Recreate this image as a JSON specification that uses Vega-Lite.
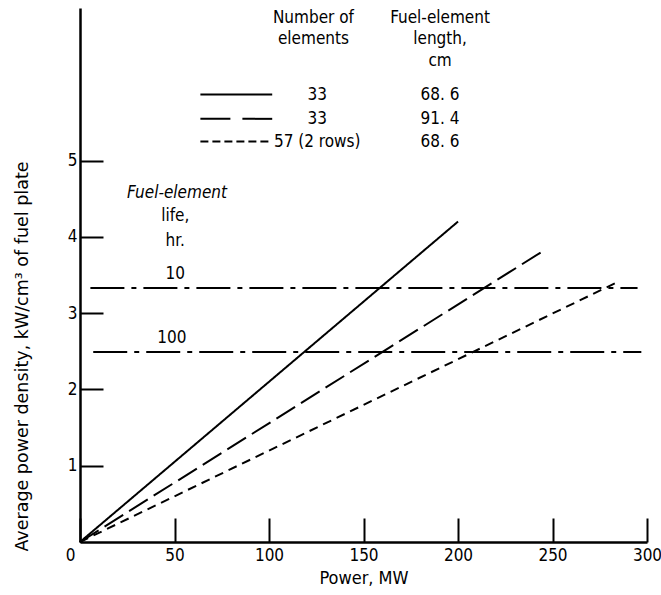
{
  "$schema": "https://vega.github.io/schema/vega-lite/v6.json",
  "width": 567,
  "height": 534,
  "autosize": {"type": "none"},
  "padding": {"left": 80, "top": 8, "right": 14, "bottom": 53},
  "background": "white",
  "config": {"view": {"stroke": null}},
  "datasets": {
    "lines": [
      {"id": "s1", "style": "solid", "x": 0, "y": 0},
      {"id": "s1", "style": "solid", "x": 200, "y": 4.2},
      {"id": "s2", "style": "long", "x": 0, "y": 0},
      {"id": "s2", "style": "long", "x": 246, "y": 3.83},
      {"id": "s3", "style": "short", "x": 0, "y": 0},
      {"id": "s3", "style": "short", "x": 283, "y": 3.39},
      {"id": "h10", "style": "dashdot", "x": 5.5, "y": 3.33},
      {"id": "h10", "style": "dashdot", "x": 295, "y": 3.33},
      {"id": "h100", "style": "dashdot", "x": 7, "y": 2.49},
      {"id": "h100", "style": "dashdot", "x": 297, "y": 2.49},
      {"id": "k1", "style": "solid", "x": 63.7, "y": 5.865},
      {"id": "k1", "style": "solid", "x": 101.7, "y": 5.865},
      {"id": "k2", "style": "legendlong", "x": 63.7, "y": 5.547},
      {"id": "k2", "style": "legendlong", "x": 101.7, "y": 5.547},
      {"id": "k3", "style": "legendshort", "x": 63.7, "y": 5.25},
      {"id": "k3", "style": "legendshort", "x": 101.7, "y": 5.25}
    ],
    "texts": [
      {"label": "Number of", "x": 123.5, "y": 6.87},
      {"label": "elements", "x": 123.5, "y": 6.59},
      {"label": "Fuel-element", "x": 190.5, "y": 6.87},
      {"label": "length,", "x": 190.5, "y": 6.59},
      {"label": "cm", "x": 190.5, "y": 6.30},
      {"label": "33", "x": 125.5, "y": 5.865},
      {"label": "33", "x": 125.5, "y": 5.547},
      {"label": "57 (2 rows)", "x": 125.5, "y": 5.25},
      {"label": "68. 6", "x": 190.5, "y": 5.865},
      {"label": "91. 4", "x": 190.5, "y": 5.547},
      {"label": "68. 6", "x": 190.5, "y": 5.25},
      {"label": "life,", "x": 50.4, "y": 4.27},
      {"label": "hr.", "x": 50.4, "y": 3.94},
      {"label": "10", "x": 50.4, "y": 3.51},
      {"label": "100", "x": 48.6, "y": 2.67}
    ],
    "italic": [
      {"label": "Fuel-element", "x": 51.3, "y": 4.58}
    ]
  },
  "layer": [
    {
      "data": {"name": "lines"},
      "mark": {"type": "line", "color": "black", "strokeWidth": 2},
      "encoding": {
        "x": {
          "field": "x", "type": "quantitative",
          "scale": {"domain": [0, 300], "nice": false},
          "axis": {
            "values": [0, 50, 100, 150, 200, 250, 300],
            "format": "d",
            "grid": false,
            "tickSize": -24,
            "tickWidth": 2,
            "tickColor": "black",
            "domainColor": "black",
            "domainWidth": 2.5,
            "labelPadding": 37,
            "labelBaseline": "middle",
            "labelFlush": false,
            "labelAlign": {"condition": {"test": "datum.value == 0", "value": "right"}, "value": "center"},
            "labelOffset": {"condition": {"test": "datum.value == 0", "value": -5}, "value": 0},
            "labelFont": "DejaVu Sans Condensed",
            "labelFontSize": 17,
            "labelColor": "black",
            "title": "Power, MW",
            "titleFont": "DejaVu Sans Condensed",
            "titleFontSize": 18,
            "titleFontWeight": "normal",
            "titleColor": "black",
            "titleY": 36,
            "titleBaseline": "middle"
          }
        },
        "y": {
          "field": "y", "type": "quantitative",
          "scale": {"domain": [0, 7], "nice": false},
          "axis": {
            "values": [1, 2, 3, 4, 5],
            "format": "d",
            "grid": false,
            "tickSize": -23,
            "tickWidth": 2,
            "tickColor": "black",
            "domainColor": "black",
            "domainWidth": 2.5,
            "labelPadding": 26,
            "labelFont": "DejaVu Sans Condensed",
            "labelFontSize": 17,
            "labelColor": "black",
            "title": "Average power density,  kW/cm³ of fuel plate",
            "titleFont": "DejaVu Sans",
            "titleFontSize": 17.5,
            "titleFontWeight": "normal",
            "titleColor": "black",
            "titleX": -58,
            "titleY": 348,
            "titleAngle": 270,
            "titleAlign": "center",
            "titleBaseline": "middle"
          }
        },
        "detail": {"field": "id"},
        "strokeDash": {
          "field": "style", "type": "nominal",
          "scale": {"domain": ["solid", "long", "short", "dashdot", "legendlong", "legendshort"], "range": [[1, 0], [22, 7], [9, 6], [34, 7, 5, 7], [30, 12], [8, 4]]},
          "legend": null
        }
      }
    },
    {
      "data": {"name": "texts"},
      "mark": {"type": "text", "font": "DejaVu Sans Condensed", "fontSize": 17, "baseline": "middle", "align": "center", "color": "black"},
      "encoding": {
        "x": {"field": "x", "type": "quantitative"},
        "y": {"field": "y", "type": "quantitative"},
        "text": {"field": "label"}
      }
    },
    {
      "data": {"name": "italic"},
      "mark": {"type": "text", "font": "DejaVu Sans Condensed", "fontSize": 17, "fontStyle": "italic", "baseline": "middle", "align": "center", "color": "black"},
      "encoding": {
        "x": {"field": "x", "type": "quantitative"},
        "y": {"field": "y", "type": "quantitative"},
        "text": {"field": "label"}
      }
    }
  ]
}
